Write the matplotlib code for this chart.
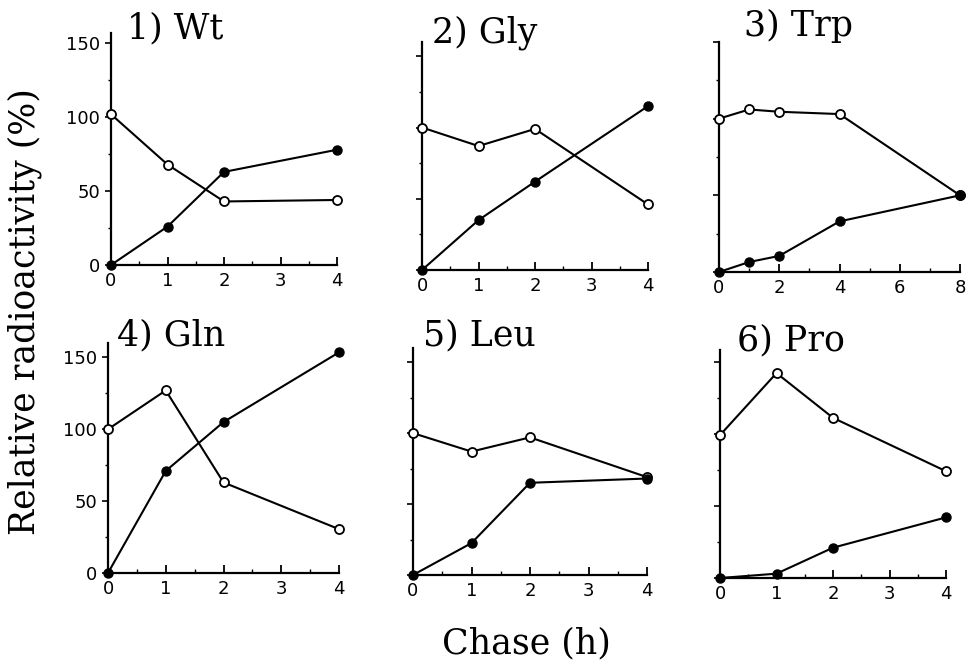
import matplotlib
matplotlib.use("Agg")
import matplotlib.pyplot as plt
from matplotlib.ticker import MultipleLocator

# ---- data ----
titles = ["1) Wt", "2) Gly", "3) Trp", "4) Gln", "5) Leu", "6) Pro"]
x_std = [0, 1, 2, 4]
x_trp = [0, 1, 2, 4, 8]

wt_open = [102, 68, 43, 44]
wt_filled = [0, 26, 63, 78]
gly_open = [100, 87, 99, 46]
gly_filled = [0, 35, 62, 115]
trp_open = [100, 106, 104.5, 103, 50]
trp_filled = [0, 6.5, 10.5, 33, 50]
gln_open = [100, 127, 63, 30.5]
gln_filled = [0, 71, 105, 153.5]
leu_open = [100, 87, 97, 69]
leu_filled = [0, 22.5, 65, 68]
pro_open = [99, 142, 111, 74]
pro_filled = [0, 3, 21, 42]

xs = [x_std, x_std, x_trp, x_std, x_std, x_std]
opens = [wt_open, gly_open, trp_open, gln_open, leu_open, pro_open]
filleds = [wt_filled, gly_filled, trp_filled, gln_filled, leu_filled, pro_filled]

y_ticks = [0, 50, 100, 150]
x_ticks_std = [0, 1, 2, 3, 4]
x_ticks_trp = [0, 2, 4, 6, 8]

# ---- layout (pixels in 968x669 figure) ----
W, H = 968, 669
boxes = [  # left, right, top, bottom
    (111, 337, 33, 265),
    (422, 648, 42, 270),
    (719, 960, 42, 272),
    (108, 339, 343, 573),
    (413, 647, 348, 575),
    (720, 946, 350, 578),
]
ytops = [157, 160, 147, 160, 160, 158]
title_pos = [(0.07, 0.978), (0.044, 1.0), (0.104, 1.026),
             (0.04, 0.99), (0.043, 1.013), (0.075, 1.0)]
show_ylabels = [True, False, False, True, False, False]

fig = plt.figure(figsize=(W / 100, H / 100), dpi=100)
serif = "DejaVu Serif"

for i in range(6):
    l, r, t, b = boxes[i]
    ax = fig.add_axes([l / W, 1 - b / H, (r - l) / W, (b - t) / H])
    x = xs[i]
    ax.plot(x, opens[i], "-", color="black", lw=1.5, marker="o",
            markersize=6.5, markerfacecolor="white", markeredgecolor="black",
            markeredgewidth=1.3, clip_on=False, zorder=3)
    ax.plot(x, filleds[i], "-", color="black", lw=1.5, marker="o",
            markersize=6.5, markerfacecolor="black", markeredgecolor="black",
            clip_on=False, zorder=4)
    xmax = x[-1]
    ax.set_xlim(0, xmax)
    ax.set_ylim(0, ytops[i])
    for s in ["top", "right"]:
        ax.spines[s].set_visible(False)
    for s in ["left", "bottom"]:
        ax.spines[s].set_linewidth(1.6)
    if i == 2:
        ax.set_xticks(x_ticks_trp)
        ax.xaxis.set_minor_locator(MultipleLocator(1))
    else:
        ax.set_xticks(x_ticks_std)
        ax.xaxis.set_minor_locator(MultipleLocator(0.5))
    ax.set_yticks(y_ticks)
    ax.yaxis.set_minor_locator(MultipleLocator(25))
    ax.tick_params(axis="x", direction="in", length=6, width=1.3,
                   labelsize=13, pad=5)
    ax.tick_params(axis="x", which="minor", direction="in", length=3, width=1)
    ax.tick_params(axis="y", direction="out", length=4, width=1.2,
                   labelsize=13, pad=4)
    ax.tick_params(axis="y", which="minor", direction="out", length=2.5, width=1)
    if not show_ylabels[i]:
        ax.set_yticklabels([])
    tx, ty = title_pos[i]
    ax.text(tx, ty, titles[i], transform=ax.transAxes, ha="left",
            va="baseline", fontsize=25, family=serif)

fig.text(25 / W, 1 - 312 / H, "Relative radioactivity (%)", rotation=90,
         ha="center", va="center", fontsize=25, family=serif)
fig.text(526 / W, 1 - 643 / H, "Chase (h)", ha="center", va="center",
         fontsize=25, family=serif)

fig.savefig("out.png", dpi=100)
